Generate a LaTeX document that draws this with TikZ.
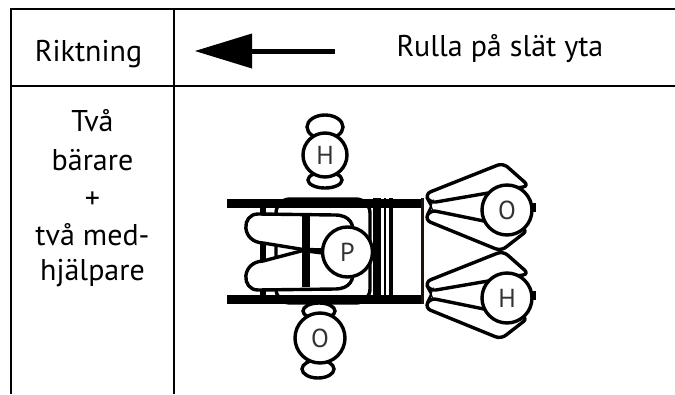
\documentclass[tikz,border=0pt]{standalone}
\usepackage{fontspec}
\setmainfont{PT Sans}
\begin{document}
\begin{tikzpicture}[x=1pt,y=-1pt,
  rule/.style={line width=1.8pt, draw=black},
  lbl/.style={font=\fontsize{30}{37}\selectfont, inner sep=0pt},
  letter/.style={font=\fontsize{26}{30}\selectfont, text=black!80, inner sep=0pt},
  outline/.style={line width=3.4pt, draw=black, fill=white},
]
\useasboundingbox (0,0) rectangle (675,394);

% table rules
\draw[rule] (10.7,9.3) -- (675,9.3);
\draw[rule] (10.7,86) -- (675,86);
\draw[rule] (10.7,8.4) -- (10.7,394);
\draw[rule] (174,8.4) -- (174,394);

% header row
\node[lbl, anchor=base] (riktning) at (88.5,61.7) {Riktning};
\node[lbl, anchor=base] (rulla) at (500,56) {Rulla på slät yta};

% direction arrow
\coordinate (tip) at (195,51);
\coordinate (tail) at (335,51);
\fill (tip) -- ++(57,-17.5) -- ++(0,35) -- cycle;
\draw[line width=5pt] (tail) -- ++(-85,0);

% left column text
\node[lbl, anchor=base] (t1) at (92.5,131.7) {Två};
\node[lbl, anchor=base] (t2) at (92.5,170.7) {bärare};
\node[lbl, anchor=base] (t3) at (92.5,208) {+};
\node[lbl, anchor=base] (t4) at (92.5,245) {två med-};
\node[lbl, anchor=base] (t5) at (92.5,280.5) {hjälpare};

% wheelchair seen from above: seat outline
\draw[outline, rounded corners=14pt] (276,199) rectangle (370,303);
% wheels
\fill (227,199) rectangle (424,208);
\fill (227,294.5) rectangle (424,303.5);
% front frame
\fill (260,208) rectangle (266,294.5);
% legs of the seated person
\draw[outline, line join=round] (258,214) -- (335,215)
  .. controls (350,215) and (355,225) .. (352,235)
  -- (330,250) -- (303,249.5) -- (263,243)
  .. controls (241,242) and (241,214) .. (258,214) -- cycle;
\draw[outline, line join=round] (263,261) -- (303,250.5) -- (330,254)
  -- (352,269) .. controls (355,279) and (350,289) .. (335,289)
  -- (258,290) .. controls (241,290) and (241,262) .. (263,261) -- cycle;
% seat cross bar
\fill (302,213) rectangle (310,287);
\draw[line width=2pt] (306,250) -- (325,250);
% seated person
\draw[outline] (347.5,252) circle[radius=25];
\node[letter] (p) at (347.5,252) {P};
% backrest and push frame
\fill (373,198) rectangle (381,304);
\fill (383.5,198) rectangle (386,304);
\fill (389,198) rectangle (392.5,304);
\draw[line width=2.5pt, draw=black!85!brown] (422.5,198) -- (422.5,304);

% helper above the chair
\draw[outline] (325,127) ellipse[x radius=18, y radius=12];
\draw[outline] (325,180) ellipse[x radius=17, y radius=8];
\draw[outline] (325,155) circle[radius=22];
\node[letter] (h1) at (325,155) {H};

% helper below the chair
\draw[outline] (319,311) ellipse[x radius=16, y radius=8];
\draw[outline] (318,369) ellipse[x radius=16, y radius=9];
\draw[outline] (320,338) circle[radius=25];
\node[letter] (o1) at (320,338) {O};

% carriers holding the push frame
\foreach \cy/\lt/\nm in {210/O/o2, 298/H/h2} {
  \begin{scope}[shift={(507,\cy)}]
    \draw[outline, rounded corners=6pt] (-82,-16) -- (-4,-47) -- (22,-24) -- (-77,-7) -- cycle;
    \draw[outline, rounded corners=6pt] (-77,0) -- (21,20) -- (-6,41) -- (-82,10) -- cycle;
    \draw[outline] (0,0) circle[radius=25];
    \node[letter] (\nm) at (0,0) {\lt};
    \draw[line width=4pt] (27,-7) -- (27,2);
  \end{scope}
}
\end{tikzpicture}
\end{document}
